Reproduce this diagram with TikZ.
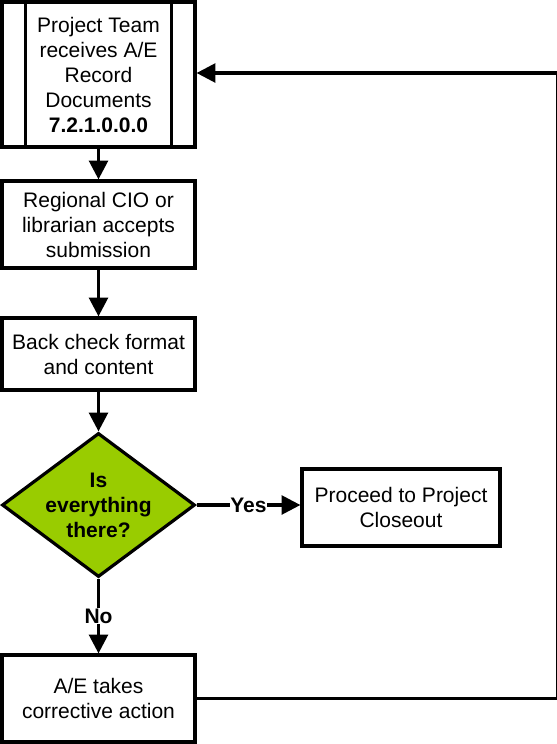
\documentclass[tikz,border=0pt]{standalone}
\usepackage{fontspec}
\setmainfont{Liberation Sans}
\usetikzlibrary{arrows.meta,shapes.geometric}
\definecolor{decgreen}{RGB}{153,204,0}
\begin{document}
\begin{tikzpicture}[x=0.75pt, y=-0.75pt,
  font=\fontsize{15.75}{18.75}\selectfont,
  box/.style={draw, rectangle, line width=2.4pt, fill=white, align=center, inner sep=3pt, minimum width=144.75pt},
  decision/.style={draw, diamond, line width=2.4pt, fill=decgreen, inner sep=0pt, minimum width=144.75pt, minimum height=108pt},
  flow/.style={line width=2.4pt, -{Triangle[width=14pt, length=14pt]}},
  lbl/.style={fill=white, inner sep=0.5pt, font=\fontsize{15.75}{18.75}\selectfont\bfseries}]
\useasboundingbox (0,0) rectangle (557,744);
\node[box, minimum height=108.75pt] (p) at (98.5,74.5) {Project Team\\receives A/E\\Record\\Documents\\\textbf{7.2.1.0.0.0}};
\draw[line width=2.4pt] ([xshift=18.75pt]p.north west) -- ([xshift=18.75pt]p.south west);
\draw[line width=2.4pt] ([xshift=-18.75pt]p.north east) -- ([xshift=-18.75pt]p.south east);
\node[box, minimum height=65.25pt] (r) at (98.5,224.5) {Regional CIO or\\librarian accepts\\submission};
\node[box, minimum height=54pt] (b) at (98.5,354) {Back check format\\and content};
\node[decision] (d) at (98.5,505) {};
\node[align=center, font=\fontsize{15.75}{18.75}\selectfont\bfseries] (dq) at (d) {Is\\everything\\there?};
\node[box, minimum width=148.5pt, minimum height=57.75pt] (c) at (401,507.5) {Proceed to Project\\Closeout};
\node[box, minimum height=65.25pt] (e) at (98.5,698.5) {A/E takes\\corrective action};
\coordinate (rt) at (557.6,73);
\draw[flow] (p) -- (r);
\draw[flow] (r) -- (b);
\draw[flow] (b) -- (d);
\draw[flow] (d.east) -- node[lbl] {Yes} (d.east -| c.west);
\draw[flow] (d) -- node[lbl] {No} (e);
\draw[flow] (e.east) -| (rt) -- (p.east |- rt);
\end{tikzpicture}
\end{document}
